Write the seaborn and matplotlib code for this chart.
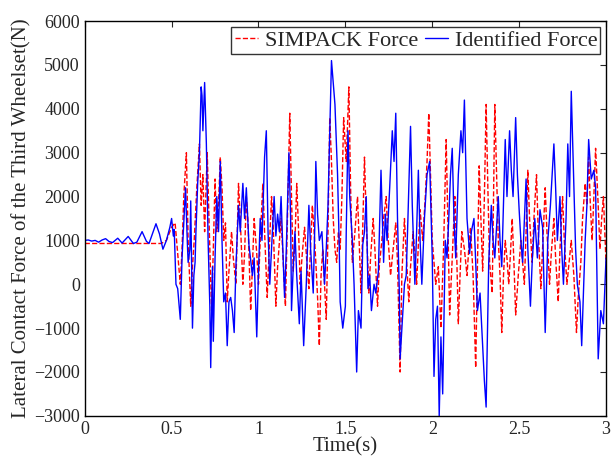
import matplotlib
matplotlib.use("Agg")
import matplotlib.pyplot as plt
import seaborn as sns
import pandas as pd

# SIMPACK force, values (time in s, force in N)
t_sim = [0.00, 0.44, 0.47, 0.50, 0.52, 0.535, 0.55, 0.56, 0.57, 0.585, 0.595, 0.61, 0.62, 0.63,
         0.645, 0.66, 0.67, 0.68, 0.69, 0.705, 0.715, 0.73, 0.74, 0.75, 0.76, 0.77, 0.78, 0.79,
         0.80, 0.81, 0.82, 0.83, 0.845, 0.855, 0.87, 0.885, 0.895, 0.91, 0.92, 0.93, 0.94, 0.955,
         0.965, 0.975, 0.99, 1.00, 1.01, 1.025, 1.035, 1.05, 1.06, 1.075, 1.085, 1.10, 1.11, 1.13,
         1.14, 1.155, 1.165, 1.18, 1.19, 1.20, 1.21, 1.22, 1.23, 1.24, 1.25, 1.265, 1.275, 1.29,
         1.30, 1.31, 1.32, 1.33, 1.34, 1.35, 1.36, 1.37, 1.38, 1.39, 1.40, 1.41, 1.42, 1.43, 1.44,
         1.45, 1.46, 1.47, 1.48, 1.49, 1.505, 1.52, 1.53, 1.54, 1.555, 1.57, 1.58, 1.59, 1.60,
         1.61, 1.62, 1.635, 1.645, 1.66, 1.67, 1.685, 1.695, 1.71, 1.72, 1.735, 1.745, 1.76,
         1.775, 1.79, 1.80, 1.815, 1.825, 1.84, 1.85, 1.865, 1.875, 1.89, 1.90, 1.91, 1.92, 1.93,
         1.945, 1.96, 1.97, 1.98, 1.99, 2.00, 2.01, 2.02, 2.035, 2.05, 2.065, 2.08, 2.09, 2.10,
         2.115, 2.13, 2.14, 2.15, 2.16, 2.17, 2.185, 2.20, 2.21, 2.22, 2.235, 2.25, 2.26, 2.27,
         2.28, 2.29, 2.30, 2.31, 2.32, 2.33, 2.345, 2.36, 2.37, 2.38, 2.39, 2.40, 2.41, 2.42,
         2.43, 2.44, 2.45, 2.46, 2.47, 2.48, 2.495, 2.51, 2.52, 2.53, 2.54, 2.55, 2.56, 2.575,
         2.585, 2.60, 2.61, 2.625, 2.635, 2.65, 2.66, 2.675, 2.685, 2.70, 2.71, 2.725, 2.735,
         2.75, 2.76, 2.775, 2.79, 2.80, 2.815, 2.83, 2.84, 2.855, 2.865, 2.88, 2.89, 2.90, 2.91,
         2.92, 2.93, 2.94, 2.955, 2.965, 2.975, 2.985, 3.00]
f_sim = [930, 930, 1000, 1300, 1400, 700, 0, 800, 2000, 3000, 1000, -500, 400, 1000,
         2200, 3200, 1800, 2500, 1200, 3000, 1500, -600, 800, 2400, 1200, 1800, 2900, 2200,
         1000, 1400, -400, 300, 1200, 600, 0, 2300, 1500, 0, 700, 2000, 1400, -600,
         400, 1500, 700, 0, 1000, 2300, 1200, -300, 600, 2000, 1300, -500, 400, 1500,
         700, -500, 1200, 3900, 2000, 300, 1000, 2300, 1300, 0, 600, 1300, 700, -100,
         900, 1800, 1200, 500, -300, -1400, 200, 800, 0, -800, 1200, 3800, 2800, 1500, 800,
         500, 1200, 800, 2000, 3800, 2800, 4500, 2200, 500, 1200, 2000, 900, -200, 1300,
         2900, 1500, -200, 600, 1500, 800, -500, 400, 1000, 1500, 2000, 1100, 200,
         800, 1400, 500, -2000, 200, 1500, 700, -400, 400, 1200, 700, 0, 900, 1700,
         1000, 2000, 2800, 3900, 2500, 1000, 500, 0, 400, -1000, 800, 3300, 1400, -700,
         600, 2000, 800, -900, 200, 1200, 800, 200, 800, 1300, 200, -1900, 400, 2700,
         1500, 300, 2000, 4100, 2200, 500, -200, 4100, 2500, 1000, 200, -1100, 200, 1000,
         600, 0, 700, 1500, 500, -700, 200, 1000, 500, 0, 1200, 2600, 1500, 500,
         1500, 2500, 1200, -100, 800, 2200, 1200, 0, 700, 1500, 600, -400, 800,
         2000, 1000, 0, 600, 1000, 200, -1100, -300, 500, 1500, 2300, 1800, 2900, 1800,
         1000, 2000, 3100, 1800, 800, 1500, 2000, 500]

# Identified force
t_id = [0.00, 0.02, 0.04, 0.06, 0.08, 0.10, 0.12, 0.14, 0.16, 0.19, 0.215, 0.25, 0.28, 0.30,
        0.33, 0.355, 0.37, 0.41, 0.43, 0.45, 0.47, 0.49, 0.50, 0.51, 0.515, 0.525, 0.535, 0.55,
        0.56, 0.58, 0.59, 0.595, 0.605, 0.61, 0.62, 0.628, 0.635, 0.64, 0.65, 0.66, 0.67, 0.675,
        0.68, 0.69, 0.70, 0.71, 0.72, 0.725, 0.735, 0.74, 0.75, 0.76, 0.77, 0.78, 0.79, 0.80,
        0.81, 0.82, 0.83, 0.84, 0.85, 0.86, 0.87, 0.885, 0.895, 0.91, 0.92, 0.93, 0.945, 0.965,
        0.975, 0.99, 1.00, 1.01, 1.02, 1.035, 1.045, 1.055, 1.065, 1.075, 1.09, 1.10, 1.11,
        1.12, 1.13, 1.14, 1.15, 1.16, 1.175, 1.185, 1.19, 1.20, 1.21, 1.22, 1.235, 1.245, 1.26,
        1.275, 1.29, 1.30, 1.315, 1.325, 1.33, 1.34, 1.35, 1.365, 1.38, 1.39, 1.40, 1.41, 1.42,
        1.43, 1.44, 1.455, 1.465, 1.47, 1.485, 1.50, 1.505, 1.515, 1.525, 1.54, 1.55, 1.565,
        1.575, 1.59, 1.60, 1.61, 1.62, 1.63, 1.64, 1.65, 1.665, 1.675, 1.69, 1.705, 1.72, 1.73,
        1.74, 1.755, 1.77, 1.78, 1.79, 1.80, 1.81, 1.815, 1.83, 1.84, 1.85, 1.86, 1.875, 1.885,
        1.90, 1.91, 1.92, 1.93, 1.94, 1.955, 1.97, 1.985, 2.00, 2.01, 2.02, 2.03, 2.04, 2.05,
        2.06, 2.075, 2.085, 2.095, 2.105, 2.115, 2.125, 2.135, 2.15, 2.165, 2.175, 2.185, 2.20,
        2.215, 2.225, 2.24, 2.25, 2.26, 2.275, 2.285, 2.30, 2.31, 2.325, 2.34, 2.35, 2.36, 2.38,
        2.39, 2.40, 2.42, 2.43, 2.445, 2.455, 2.465, 2.48, 2.49, 2.50, 2.51, 2.52, 2.54, 2.55,
        2.565, 2.575, 2.59, 2.605, 2.62, 2.635, 2.65, 2.665, 2.68, 2.70, 2.71, 2.72, 2.735,
        2.745, 2.755, 2.77, 2.78, 2.79, 2.80, 2.815, 2.825, 2.835, 2.85, 2.86, 2.87, 2.88, 2.89,
        2.90, 2.915, 2.93, 2.94, 2.955, 2.97, 2.985, 3.00]
f_id = [1000, 1010, 985, 1000, 960, 1010, 1040, 975, 950, 1050, 940, 1090, 930, 960,
        1200, 980, 930, 1380, 1150, 800, 1000, 1300, 1500, 1100, 1250, 0, -100, -800,
        600, 2200, 1000, 500, 800, 1900, -1000, 200, 500, 1200, 2300, 3000, 4500, 4300,
        3500, 4600, 3200, 1000, -500, -1900, 400, -1300, 600, 2000, 1200, 2800, 1000, -400,
        -200, -1400, -400, -300, -600, -1100, 400, 1800, 1200, 2300, 1500, 2200, 900, 200,
        600, -1200, 300, 1500, 1000, 2900, 3500, 1200, 0, 800, 2000, 1100, 1600,
        1200, 2000, 800, -300, 800, 3000, 1500, -600, 400, 1200, 200, -900, 300, -1400,
        0, 1800, 800, -200, 1500, 2800, 1600, 1000, 1200, 0, 800, 1800, 3500, 5100,
        4600, 4100, 2500, 800, -400, -1000, -500, 1200, 3500, 2000, 1000, 0, -2000,
        -600, -1000, 900, 1200, 2000, -100, 200, -600, 0, -200, 300, 2600, 500, 1600,
        1000, 2200, 3500, 2800, 3900, 1500, -100, -1700, -700, 0, 200, 1500, 3600, 1800,
        0, 1200, 2600, 1000, 0, 1500, 2500, 2800, 600, -2100, -800, -500, -3000, -1200,
        -2500, 1000, 600, 1500, 2500, 3100, 1500, 600, 2500, 3500, 3000, 4200, 1500,
        700, 1200, 1500, 500, -600, -200, -1000, -2200, -2800, 500, 1800, 1000, 600, 2000,
        1000, 400, 3300, 2000, 3500, 2600, 2000, 3800, 2500, 1700, 1000, 500, 2400, 800,
        -500, 500, 1500, 600, 1700, 1300, -1100, 1000, 1800, 3200, 2200, 1000, 2000,
        800, 0, 1500, 3200, 2000, 4400, 2200, 800, 0, -400, -1400, -200, 1000, 1800,
        3300, 2400, 2600, 2200, -1700, -600, -900, 600]

sim = pd.DataFrame({"t": t_sim, "f": f_sim})
ide = pd.DataFrame({"t": t_id, "f": f_id})

sns.set_style("white")
plt.rcParams["font.family"] = ["Liberation Serif", "DejaVu Serif"]
plt.rcParams["xtick.direction"] = "in"
plt.rcParams["ytick.direction"] = "in"

fig = plt.figure(figsize=(6.14, 4.59), dpi=100)
ax = fig.add_axes([0.138, 0.094, 0.849, 0.860])

sns.lineplot(data=sim, x="t", y="f", ax=ax, color="red", linestyle="--",
             linewidth=1.0, label="SIMPACK Force")
sns.lineplot(data=ide, x="t", y="f", ax=ax, color="blue", linewidth=1.0,
             label="Identified Force")

ax.set_xlim(0, 3)
ax.set_ylim(-3000, 6000)
ax.set_xticks([0, 0.5, 1, 1.5, 2, 2.5, 3])
ax.set_xticklabels(["0", "0.5", "1", "1.5", "2", "2.5", "3"])
ax.set_yticks(range(-3000, 6001, 1000))
ax.tick_params(axis="both", labelsize=13, top=True, right=True, length=4, width=0.8)
for s in ax.spines.values():
    s.set_color("black")
    s.set_linewidth(1.0)

ax.set_xlabel("Time(s)", fontsize=15, labelpad=0)
ax.set_ylabel("Lateral Contact Force of the Third Wheelset(N)", fontsize=15, labelpad=2)

leg = ax.legend(loc="upper right", ncol=2, fontsize=16, frameon=True, fancybox=False,
                edgecolor="black", handlelength=1.05, handletextpad=0.3, columnspacing=0.3,
                borderpad=0.15, borderaxespad=0.25)
leg.get_frame().set_linewidth(1.0)

fig.savefig("out.png", dpi=100)
